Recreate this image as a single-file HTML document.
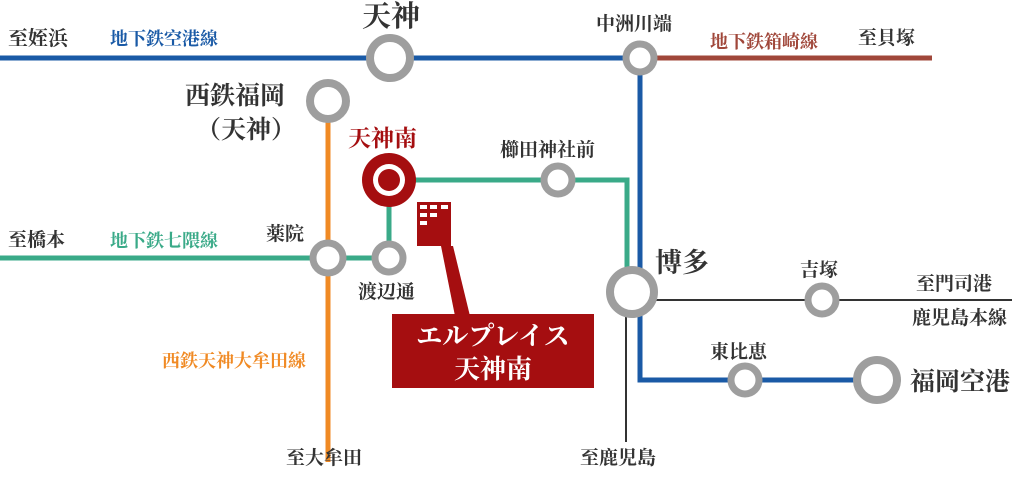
<!DOCTYPE html>
<html><head><meta charset="utf-8"><style>
html,body{margin:0;padding:0;background:#fff;}
svg{display:block;}
text{font-family:"Liberation Serif","Noto Serif CJK SC",serif;font-weight:bold;}
</style></head><body>
<svg width="1024" height="484" viewBox="0 0 1024 484" xmlns="http://www.w3.org/2000/svg">
<line x1="0" y1="58" x2="640" y2="58" stroke="#1a5aa6" stroke-width="5"/>
<line x1="640" y1="58" x2="932" y2="58" stroke="#a0473a" stroke-width="5"/>
<polyline points="640,58 640,380 880,380" fill="none" stroke="#1a5aa6" stroke-width="5"/>
<line x1="328" y1="100" x2="328" y2="462" stroke="#f08a24" stroke-width="5"/>
<polyline points="0,258 389,258 389,180 627,180 627,285" fill="none" stroke="#3aaa88" stroke-width="5"/>
<line x1="626" y1="292" x2="626" y2="442" stroke="#333" stroke-width="2"/>
<line x1="632" y1="300" x2="1012" y2="300" stroke="#333" stroke-width="2"/>
<g fill="#fff" stroke="#9e9e9e">
<circle cx="390" cy="58" r="20" stroke-width="8"/>
<circle cx="328" cy="101" r="18" stroke-width="8"/>
<circle cx="640" cy="58" r="14" stroke-width="7"/>
<circle cx="558" cy="180" r="14" stroke-width="7"/>
<circle cx="328" cy="258" r="15" stroke-width="7"/>
<circle cx="389" cy="258" r="14" stroke-width="7"/>
<circle cx="632" cy="292" r="22" stroke-width="8"/>
<circle cx="822" cy="300" r="14" stroke-width="7"/>
<circle cx="745" cy="380" r="14" stroke-width="7"/>
<circle cx="877" cy="380" r="20" stroke-width="8"/>
</g>
<circle cx="389" cy="180" r="27" fill="#a50e10"/>
<circle cx="389" cy="180" r="16" fill="#fff"/>
<circle cx="389" cy="180" r="11" fill="#a50e10"/>
<rect x="417" y="202" width="34" height="44" fill="#a50e10"/>
<g fill="#fff"><rect x="420" y="205" width="7" height="4"/><rect x="430" y="205" width="7" height="4"/><rect x="441" y="205" width="7" height="4"/><rect x="420" y="213" width="7" height="4"/><rect x="430" y="213" width="7" height="4"/><rect x="420" y="221" width="7" height="4"/></g>
<polygon points="441,246 453,246 470,316 455,316" fill="#a50e10"/>
<rect x="392" y="314" width="202" height="74" fill="#a50e10"/>
<text x="493" y="345" font-size="26" fill="#fff" text-anchor="middle" font-weight="normal">エルプレイス</text>
<text x="493" y="378" font-size="26" fill="#fff" text-anchor="middle" font-weight="normal">天神南</text>
<g fill="#333">
<text x="8" y="45" font-size="20">至姪浜</text>
<text x="362" y="26" font-size="29">天神</text>
<text x="596" y="30" font-size="19">中洲川端</text>
<text x="858" y="44" font-size="19">至貝塚</text>
<text x="185" y="104" font-size="25">西鉄福岡</text>
<text x="196" y="138" font-size="25">（天神）</text>
<text x="500" y="156" font-size="19">櫛田神社前</text>
<text x="8" y="246" font-size="19">至橋本</text>
<text x="266" y="240" font-size="19">薬院</text>
<text x="358" y="298" font-size="19">渡辺通</text>
<text x="655" y="272" font-size="27">博多</text>
<text x="800" y="276" font-size="19">吉塚</text>
<text x="916" y="290" font-size="19">至門司港</text>
<text x="912" y="324" font-size="19">鹿児島本線</text>
<text x="710" y="358" font-size="19">東比恵</text>
<text x="910" y="390" font-size="25">福岡空港</text>
<text x="286" y="464" font-size="19">至大牟田</text>
<text x="580" y="464" font-size="19">至鹿児島</text>
</g>
<text x="110" y="45" font-size="18" fill="#1a5aa6">地下鉄空港線</text>
<text x="710" y="48" font-size="18" fill="#a0473a">地下鉄箱崎線</text>
<text x="110" y="247" font-size="18" fill="#3aaa88">地下鉄七隈線</text>
<text x="162" y="367" font-size="18" fill="#f08a24">西鉄天神大牟田線</text>
<text x="348" y="146" font-size="23" fill="#a50e10">天神南</text>
</svg>
</body></html>
